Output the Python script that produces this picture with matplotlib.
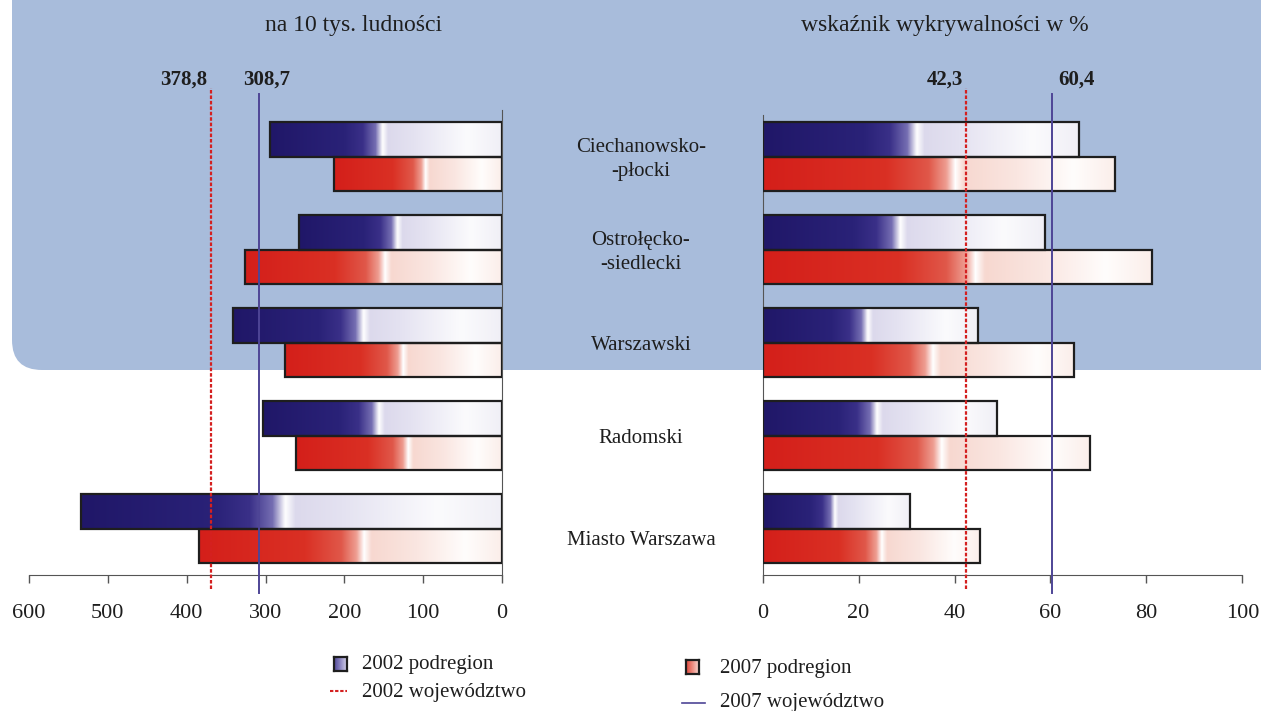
import numpy as np
import matplotlib
matplotlib.use("Agg")
import matplotlib.pyplot as plt
from matplotlib.colors import LinearSegmentedColormap
from matplotlib.patches import Rectangle, FancyBboxPatch
from matplotlib import transforms

# ---- data ----
regions = ["Ciechanowsko-\n-płocki", "Ostrołęcko-\n-siedlecki", "Warszawski",
           "Radomski", "Miasto Warszawa"]
rate_2002 = [294, 257, 341, 303, 534]          # na 10 tys. ludności
rate_2007 = [213, 326, 275, 261, 384]
detect_2002 = [66.0, 58.9, 44.9, 48.8, 30.7]   # wskaźnik wykrywalności w %
detect_2007 = [73.5, 81.2, 64.9, 68.2, 45.3]
rate_woj = [369.5, 308.7]                      # 2002, 2007 (as drawn)
rate_woj_labels = ["378,8", "308,7"]
detect_woj = [42.3, 60.4]
detect_woj_labels = ["42,3", "60,4"]
rate_ticks = [600, 500, 400, 300, 200, 100, 0]
detect_ticks = [0, 20, 40, 60, 80, 100]

BG = "#a8bcdb"
INK = "#1e1e1e"
RED_LINE = "#d42020"
BLUE_LINE = "#4e4596"
DASH = (0, (1.6, 0.85))
cm_blue = LinearSegmentedColormap.from_list("b", [
    (0.0, "#201768"), (0.32, "#2a2278"), (0.40, "#3a3088"), (0.455, "#756eb2"),
    (0.485, "#ffffff"), (0.51, "#dcd9ec"), (0.62, "#e4e2f1"), (0.85, "#fbfbfd"),
    (1.0, "#f0eff6")])
cm_red = LinearSegmentedColormap.from_list("r", [
    (0.0, "#d41f1a"), (0.35, "#da3024"), (0.47, "#e0584a"), (0.52, "#ee9e92"),
    (0.545, "#ffffff"), (0.57, "#f7d8d0"), (0.72, "#fae6e1"), (0.88, "#fffdfc"),
    (1.0, "#fbeeea")])
leg_blue = LinearSegmentedColormap.from_list("lb", ["#4f4797", "#8e88c2", "#d6d3ea"])
leg_red = LinearSegmentedColormap.from_list("lr", ["#e0463a", "#ec8c80", "#f9d9d2"])
grad = np.linspace(0, 1, 256).reshape(1, -1)

plt.rcParams["font.family"] = ["Liberation Serif", "DejaVu Serif"]

fig = plt.figure(figsize=(12.61, 7.11), dpi=100)
fig.patches.append(FancyBboxPatch((0.12, 3.41), 14.0, 5.0,
                                  boxstyle="round,pad=0,rounding_size=0.3",
                                  transform=fig.dpi_scale_trans, facecolor=BG,
                                  edgecolor="none", zorder=-5))

axL = fig.add_axes([29 / 1261, 1 - 575 / 711, (502 - 29) / 1261, 465 / 711])
axR = fig.add_axes([762.7 / 1261, 1 - 575 / 711, (1242.3 - 762.7) / 1261, 465 / 711])

BH = 0.37


def draw_bars(ax, vals, cmap, y0, flip):
    for i, v in enumerate(vals):
        top, bot = i + y0, i + y0 + BH
        ext = (v, 0, bot, top) if flip else (0, v, bot, top)
        ax.imshow(grad, cmap=cmap, extent=ext, aspect="auto",
                  interpolation="bilinear", zorder=2)
        ax.add_patch(Rectangle((0, top), v, BH, facecolor="none",
                               edgecolor=INK, lw=1.6, zorder=3))


for ax, v02, v07, flip in [(axL, rate_2002, rate_2007, True),
                           (axR, detect_2002, detect_2007, False)]:
    ax.patch.set_alpha(0)
    draw_bars(ax, v02, cm_blue, -BH, flip)
    draw_bars(ax, v07, cm_red, 0, flip)
    ax.set_ylim(4.5, -0.5)
    ax.set_yticks([])
    for s in ("top", "left", "right"):
        ax.spines[s].set_visible(False)
    ax.spines["bottom"].set_color("#555555")
    ax.tick_params(axis="x", length=6, width=1, color="#555555",
                   labelsize=16, pad=15, labelcolor=INK)

axL.set_xlim(600, 0)
axL.set_xticks(rate_ticks)
axL.spines["right"].set_visible(True)
axL.spines["right"].set_color("#555555")
axR.set_xlim(0, 100)
axR.set_xticks(detect_ticks)
axR.spines["left"].set_visible(True)
axR.spines["left"].set_color("#555555")
axR.spines["left"].set_bounds(4.5, -0.45)

# voivodeship reference lines; label anchors (x, ha) placed as in the reference
label_pos = {axL: [(374, "right"), (298, "center")],
             axR: [(41.8, "right"), (61.6, "left")]}
for ax, vals, labels in [(axL, rate_woj, rate_woj_labels),
                         (axR, detect_woj, detect_woj_labels)]:
    ax.axvline(vals[0], ymin=-0.03, ymax=1.047, color=RED_LINE, lw=1.6,
               ls=DASH, clip_on=False, zorder=4)
    ax.axvline(vals[1], ymin=-0.038, ymax=1.035, color=BLUE_LINE, lw=1.4,
               clip_on=False, zorder=4)
    tr = transforms.blended_transform_factory(ax.transData, ax.transAxes)
    for (x, ha), lab in zip(label_pos[ax], labels):
        ax.text(x, 1.0645, lab, transform=tr, ha=ha, va="center",
                fontsize=15, fontweight="bold", color=INK)

# panel titles
fig.text(354 / 1261, 1 - 25 / 711, "na 10 tys. ludności", ha="center",
         va="center", fontsize=17, color=INK)
fig.text(945 / 1261, 1 - 25 / 711, "wskaźnik wykrywalności w %", ha="center",
         va="center", fontsize=17, color=INK)

# category labels between panels
label_dy = [0.035, 0.035, 0.035, 0.035, 0.13]
trc = transforms.blended_transform_factory(fig.transFigure, axR.transData)
for i, name in enumerate(regions):
    fig.text(641 / 1261, i + label_dy[i], name, transform=trc, ha="center",
             va="center", fontsize=15, color=INK, linespacing=1.35)


# legend (drawn by hand)
def legend_square(x, y, cmap):
    a = fig.add_axes([x / 1261, 1 - (y + 14) / 711, 13 / 1261, 14 / 711])
    a.imshow(grad, cmap=cmap, aspect="auto", interpolation="bilinear")
    a.set_xticks([])
    a.set_yticks([])
    for s in a.spines.values():
        s.set_color(INK)
        s.set_linewidth(1.6)


legend_square(334, 657, leg_blue)
legend_square(686, 660, leg_red)
fig.add_artist(plt.Line2D([330 / 1261, 347 / 1261], [1 - 691 / 711] * 2,
                          color=RED_LINE, lw=1.5, ls=DASH))
fig.add_artist(plt.Line2D([682 / 1261, 705 / 1261], [1 - 703 / 711] * 2,
                          color=BLUE_LINE, lw=1.2))
for x, y, t in [(362, 665, "2002 podregion"), (362, 693, "2002 województwo"),
                (720, 668, "2007 podregion"), (720, 703, "2007 województwo")]:
    fig.text(x / 1261, 1 - y / 711, t, ha="left", va="center", fontsize=15,
             color=INK)

fig.savefig("out.png", dpi=100)
